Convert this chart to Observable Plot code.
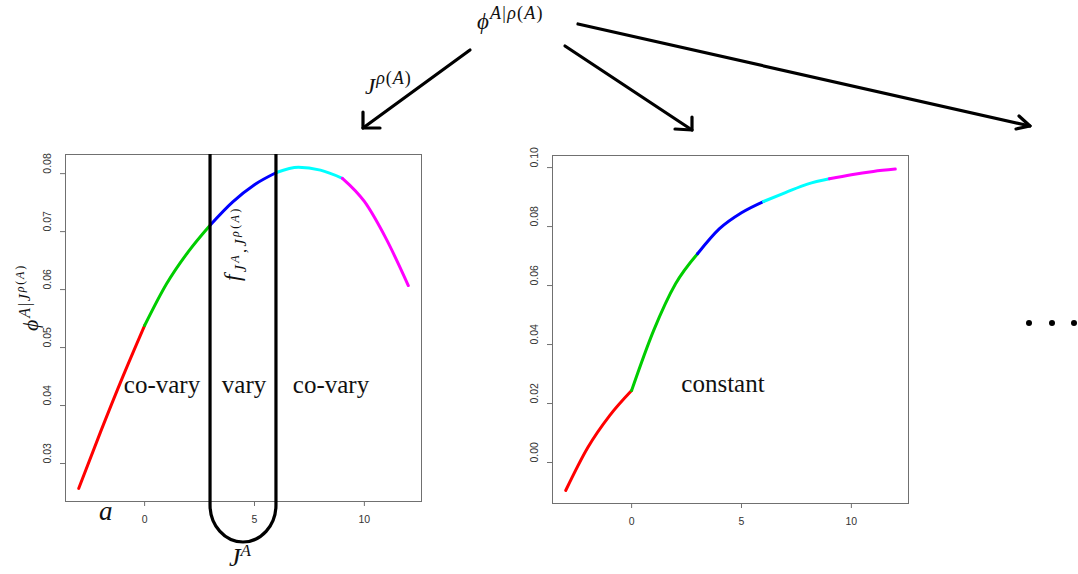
<!DOCTYPE html>
<html><head><meta charset="utf-8">
<script src="https://cdn.jsdelivr.net/npm/d3@7"></script>
<script src="https://cdn.jsdelivr.net/npm/@observablehq/plot@0.6"></script>
<style>
html,body{margin:0;padding:0;background:#fff;}
#wrap{position:relative;width:1078px;height:574px;overflow:hidden;background:#fff;}
#wrap svg{position:absolute;margin:0;}
</style></head><body><div id="wrap"></div>
<script>
// ---- data ----
const xValues = [-3,-2,-1,0,1,2,3,4,5,6,7,8,9,10,11,12];
const leftValues = [0.0257,0.0355,0.0449,0.0538,0.0610,0.0666,0.0712,0.0751,0.0781,0.0802,0.0811,0.0806,0.0792,0.0752,0.0687,0.0607];
const rightValues = [-0.0095,0.0050,0.0159,0.0244,0.0447,0.0606,0.0708,0.0793,0.0847,0.0885,0.0915,0.0944,0.0962,0.0976,0.0987,0.0995];
const segmentNames = ["-3 to 0","0 to 3","3 to 6","6 to 9","9 to 12"];
const segmentColors = ["#ff0000","#00cd00","#0000ff","#00ffff","#ff00ff"];
const segmentBreaks = [-3,0,3,6,9,12];
const xTickValues = [0,5,10];
const leftYTicks = [0.03,0.04,0.05,0.06,0.07,0.08];
const rightYTicks = [0.00,0.02,0.04,0.06,0.08,0.10];
const varyBounds = [3,6];
const leftRegionLabels = ["co-vary","vary","co-vary"];
const rightRegionLabel = "constant";

function rows(values){
  const out=[];
  segmentNames.forEach((s,i)=>{
    xValues.forEach((x,j)=>{
      if(x>=segmentBreaks[i] && x<=segmentBreaks[i+1]) out.push({seg:s,x,y:values[j]});
    });
  });
  return out;
}

function panel(values, yTicks, yDomain, o){
  return Plot.plot({
    width:o.width, height:434,
    marginLeft:o.ml, marginRight:o.mr, marginTop:o.mt, marginBottom:o.mb,
    x:{domain:[-3.6,12.6]}, y:{domain:yDomain},
    color:{domain:segmentNames, range:segmentColors},
    style:{fontFamily:"'Liberation Sans', Arial, sans-serif", background:"transparent", overflow:"visible"},
    marks:[
      Plot.frame({stroke:"#707070"}),
      Plot.axisX({ticks:xTickValues, tickSize:5, tickPadding:9, fontSize:10.5, stroke:"#707070", fill:"#333", label:null}),
      Plot.axisY({ticks:yTicks, tickSize:5, tickFormat:()=>"", stroke:"#707070", label:null}),
      Plot.text(yTicks,{y:d=>d, text:d=>d.toFixed(2), frameAnchor:"left", dx:-18, rotate:-90, fontSize:10.5, fill:"#333"}),
      Plot.line(rows(values),{x:"x", y:"y", z:"seg", stroke:"seg", strokeWidth:3, curve:"monotone-x"})
    ]
  });
}

const wrap = document.getElementById("wrap");
const left = panel(leftValues, leftYTicks, [0.02345,0.0833], {width:430, ml:65, mr:9, mt:14, mb:73});
left.style.left="0px"; left.style.top="140px";
wrap.appendChild(left);
const right = panel(rightValues, rightYTicks, [-0.0139,0.1041], {width:440, ml:72, mr:12, mt:15, mb:71});
right.style.left="480px"; right.style.top="140px";
wrap.appendChild(right);

// ---- overlay annotations ----
const svg = d3.create("svg").attr("width",1078).attr("height",574)
  .style("left","0px").style("top","0px").style("overflow","visible")
  .style("font-family","'Liberation Serif', 'DejaVu Serif', serif");
wrap.appendChild(svg.node());

// U-shaped bracket around the "vary" region, positioned from the left plot's x scale
const sx = left.scale("x");
const xa = sx.apply(varyBounds[0]), xb = sx.apply(varyBounds[1]);
const topY = 140+14, yb = 505;
svg.append("path")
  .attr("d",`M${xa},${topY} L${xa},${yb} A${(xb-xa)/2},37 0 0 0 ${xb},${yb} L${xb},${topY}`)
  .attr("fill","none").attr("stroke","#000").attr("stroke-width",3.2);

// region labels
const lab = (t,x,y)=>svg.append("text").attr("x",x).attr("y",y).attr("text-anchor","middle")
  .attr("font-size",25).attr("fill","#111").text(t);
lab(leftRegionLabels[0],162,393);
lab(leftRegionLabels[1],244,393);
lab(leftRegionLabels[2],331,393);
lab(rightRegionLabel,723,392);

// arrows
const arrows = [
  {line:[[470,50],[363,128]], head:[[363,112],[363,128],[380,128]]},
  {line:[[565,46],[692,130]], head:[[692,117],[692,130],[675,129]]},
  {line:[[578,24],[1030,126]], head:[[1019,116],[1030,126],[1016,129]]}
];
arrows.forEach(a=>{
  svg.append("path").attr("d",d3.line()(a.line)).attr("stroke","#000").attr("stroke-width",3.2).attr("stroke-linecap","round").attr("fill","none");
  svg.append("path").attr("d",d3.line()(a.head)).attr("stroke","#000").attr("stroke-width",3.2).attr("stroke-linecap","round").attr("stroke-linejoin","round").attr("fill","none");
});

// helper for math text: parts [text, size, dy, italic]
function math(g, parts){
  const t = g.append("text").attr("fill","#111");
  parts.forEach(p=>{
    t.append("tspan").attr("font-size",p[1]).attr("dy",p[2]||0)
      .attr("font-style",p[3]===false?"normal":"italic").text(p[0]);
  });
  return t;
}

// top label phi^{A|rho(A)}
math(svg.append("g").attr("transform","translate(477,29)"),
  [["ϕ",23,0],["A",18,-10],["|",18,0,false],["ρ",18,0],["(",18,0,false],["A",18,0],[")",18,0,false]])
  .attr("letter-spacing",1.2);
// J^{rho(A)}
math(svg.append("g").attr("transform","translate(365,94)"),
  [["J",23,0],["ρ",18,-10],["(",18,0,false],["A",18,0],[")",18,0,false]]).attr("letter-spacing",1);

// y-axis label of left panel (rotated)
math(svg.append("g").attr("transform","translate(38,331) rotate(-90)"),
  [["ϕ",22,0],["A",16,-8],["|",16,0,false],["J",16,0],["ρ",12,-6],["(",12,0,false],["A",12,0],[")",12,0,false]])
  .attr("letter-spacing",1.8);

// f_{J^A, J^{rho(A)}} label (rotated)
math(svg.append("g").attr("transform","translate(240,281) rotate(-90)"),
  [["f",23,0],["J",16,6],["A",12,-7],[",",16,7,false],["J",16,0],["ρ",12,-7],["(",12,0,false],["A",12,0],[")",12,0,false]])
  .attr("letter-spacing",2.4);

// a and J^A under the left panel
math(svg.append("g").attr("transform","translate(99,520)"), [["a",27,0]]);
math(svg.append("g").attr("transform","translate(229,566)"), [["J",26,0],["A",17,-10]]);

// ellipsis on the right
[1029,1052,1074].forEach(cx=>svg.append("circle").attr("cx",cx).attr("cy",323).attr("r",3).attr("fill","#000"));
</script></body></html>
